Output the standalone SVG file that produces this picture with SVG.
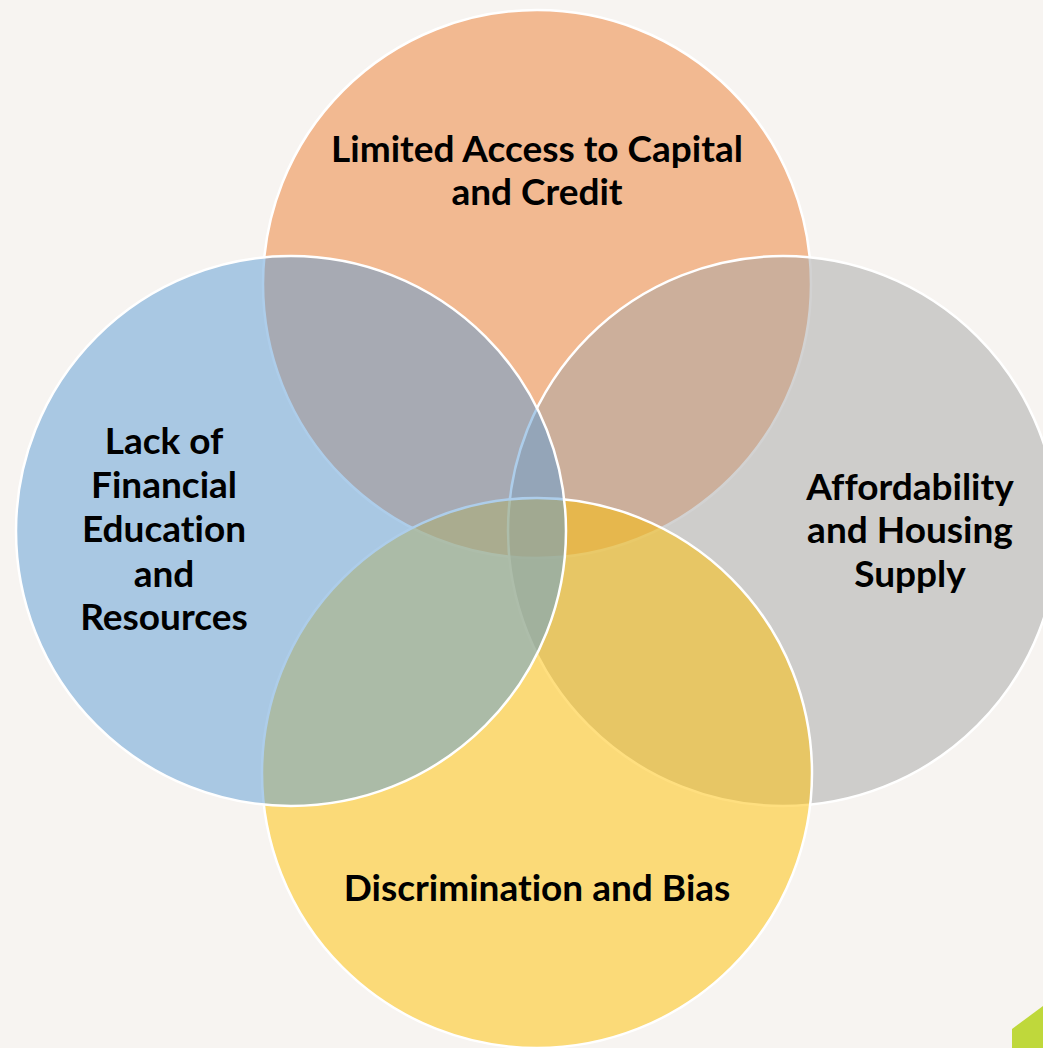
<svg xmlns="http://www.w3.org/2000/svg" width="1043" height="1048" viewBox="0 0 1043 1048">
  <style>
    .ring { stroke: #FFFFFF; stroke-width: 2.5; fill-opacity: 0.5; }
    .label { font-family: Lato, "Liberation Sans", sans-serif; font-weight: bold; font-size: 37px; fill: #000000; text-anchor: middle; font-variant-ligatures: none; }
  </style>
  <rect x="0" y="0" width="1043" height="1048" fill="#F7F4F1"/>
  <!-- corner accent -->
  <polygon points="1012,1029 1043,1006 1043,1048 1012,1048" fill="#BFD83B"/>

  <g id="capital">
    <circle class="ring" cx="537" cy="284" r="274" fill="#ED7D31"/>
  </g>
  <g id="affordability">
    <circle class="ring" cx="783" cy="531" r="275" fill="#A5A5A5"/>
  </g>
  <g id="discrimination">
    <circle class="ring" cx="537" cy="773" r="275" fill="#FFC000"/>
  </g>
  <g id="education">
    <circle class="ring" cx="291" cy="531" r="275" fill="#5B9BD5"/>
  </g>

  <g id="labels">
    <text class="label" x="537" y="162">Limited Access to Capital</text>
    <text class="label" x="537" y="205">and Credit</text>

    <text class="label" x="164" y="454">Lack of</text>
    <text class="label" x="164" y="498">Financial</text>
    <text class="label" x="164" y="542">Education</text>
    <text class="label" x="164" y="587">and</text>
    <text class="label" x="164" y="630">Resources</text>

    <text class="label" x="910" y="500">Affordability</text>
    <text class="label" x="910" y="543">and Housing</text>
    <text class="label" x="910" y="587">Supply</text>

    <text class="label" x="537" y="901">Discrimination and Bias</text>
  </g>
  <g id="connectors"/>
</svg>
